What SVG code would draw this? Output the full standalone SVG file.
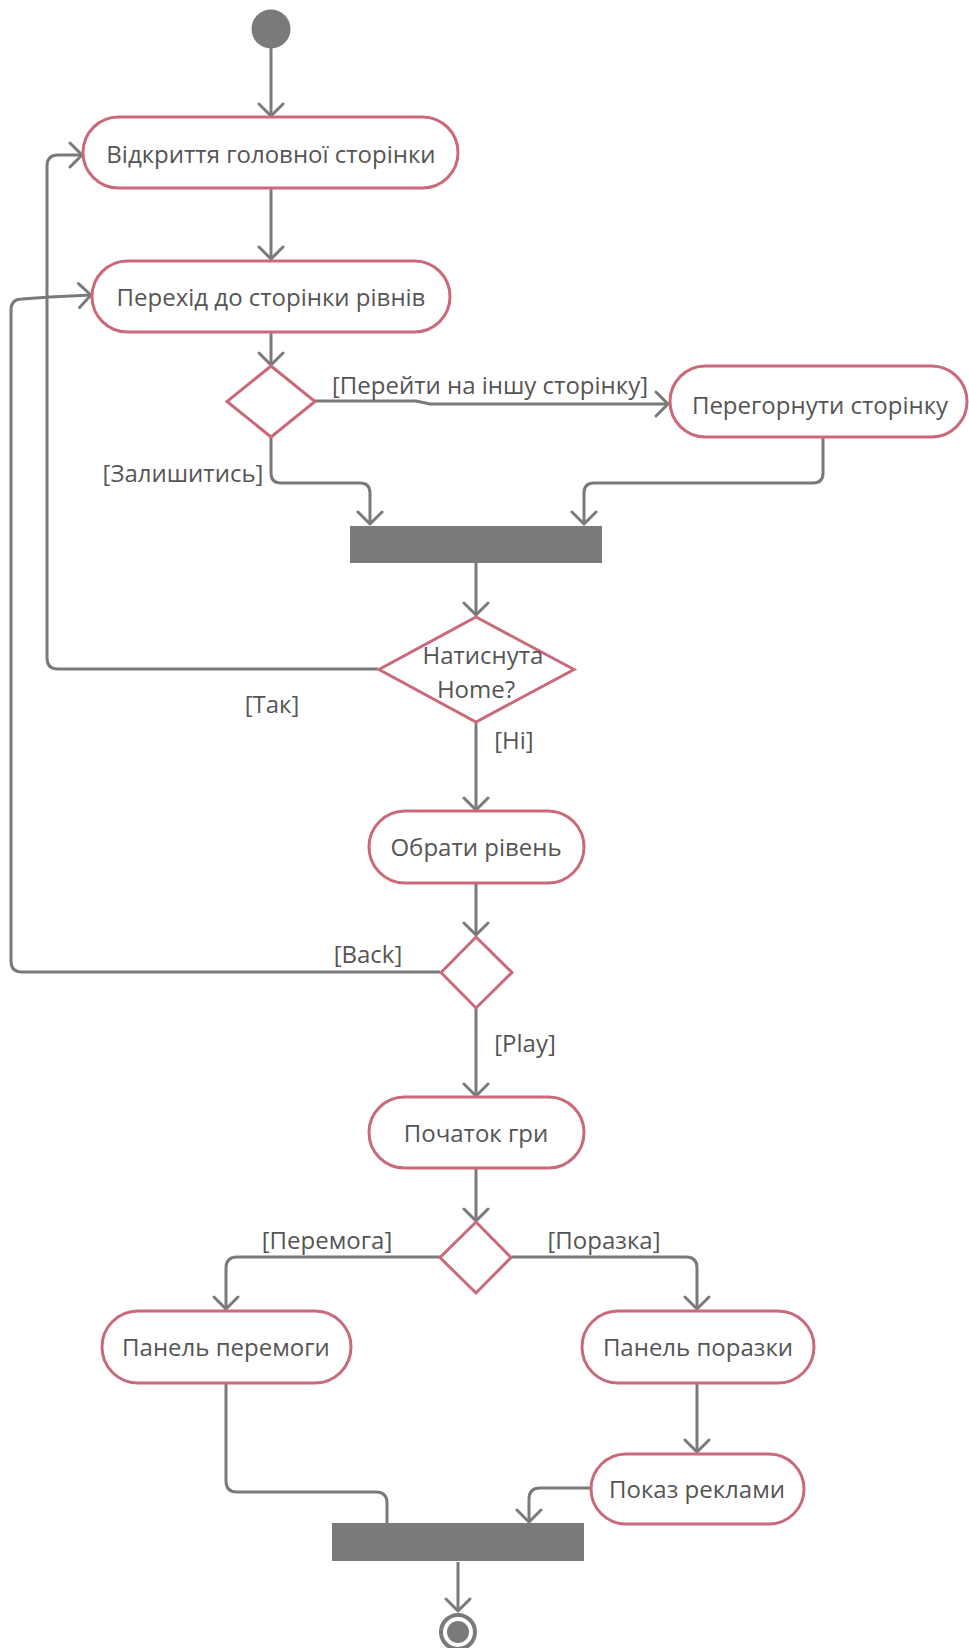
<svg xmlns="http://www.w3.org/2000/svg" width="969" height="1648" viewBox="0 0 969 1648">
<defs>
<style>
.node{fill:#ffffff;stroke:#c9697a;stroke-width:3;}
.dec{fill:#ffffff;stroke:#c9697a;stroke-width:3;stroke-linejoin:miter;}
.bar{fill:#7a7a7a;}
.edge{fill:none;stroke:#7a7a7a;stroke-width:3;stroke-linejoin:round;}
.arr{marker-end:url(#arrow);}
.t{font-family:"Open Sans","Noto Sans","DejaVu Sans",sans-serif;font-size:24px;fill:#555555;text-anchor:middle;}
.lbl{font-family:"Open Sans","Noto Sans","DejaVu Sans",sans-serif;font-size:24px;fill:#555555;text-anchor:middle;}
</style>
<marker id="arrow" markerUnits="userSpaceOnUse" viewBox="-14 -14 16 28" refX="0" refY="0" markerWidth="16" markerHeight="28" orient="auto">
<path d="M-12,-12 L0,0 L-12,12" fill="none" stroke="#7a7a7a" stroke-width="3" stroke-linecap="round" stroke-linejoin="round"/>
</marker>
</defs>
<rect width="969" height="1648" fill="#ffffff"/>

<g id="connectors">
<path class="edge arr" d="M271,48 L271,116"/>
<path class="edge arr" d="M271,188 L271,259"/>
<path class="edge arr" d="M271,332 L271,365"/>
<path class="edge arr" d="M315,401 L416,401 L430,404 L668,404"/>
<path class="edge arr" d="M271,437 L271,473 Q271,483 281,483 L360,483 Q370,483 370,493 L370,524"/>
<path class="edge arr" d="M823,437 L823,473 Q823,483 813,483 L594,483 Q584,483 584,493 L584,524"/>
<path class="edge arr" d="M476,563 L476,615"/>
<path class="edge arr" d="M378,669 L58,669 Q47,669 47,658 L47,166 Q47,155 58,155 L82,155"/>
<path class="edge arr" d="M476,723 L476,810"/>
<path class="edge arr" d="M476,883 L476,935"/>
<path class="edge arr" d="M440,972 L22,972 Q11,972 11,961 L11,310 Q11,299 22,299 L50,297 L91,295"/>
<path class="edge arr" d="M476,1008 L476,1096"/>
<path class="edge arr" d="M476,1168 L476,1221"/>
<path class="edge arr" d="M440,1257 L237,1257 Q226,1257 226,1268 L226,1309"/>
<path class="edge arr" d="M512,1257 L686,1257 Q697,1257 697,1268 L697,1309"/>
<path class="edge arr" d="M697,1383 L697,1452"/>
<path class="edge" d="M226,1383 L226,1481 Q226,1492 237,1492 L376,1492 Q387,1492 387,1503 L387,1523"/>
<path class="edge arr" d="M591,1488 L540,1488 Q529,1488 529,1499 L529,1522"/>
<path class="edge arr" d="M458,1562 L458,1611"/>
<text class="lbl" x="490" y="394">[Перейти на іншу сторінку]</text>
<text class="lbl" x="183" y="482">[Залишитись]</text>
<text class="lbl" x="272" y="713">[Так]</text>
<text class="lbl" x="514" y="749">[Ні]</text>
<text class="lbl" x="368" y="963">[Back]</text>
<text class="lbl" x="525" y="1052">[Play]</text>
<text class="lbl" x="327" y="1249">[Перемога]</text>
<text class="lbl" x="604" y="1249">[Поразка]</text>
</g>

<g id="start"><circle cx="271" cy="29" r="19.5" fill="#7a7a7a"/></g>

<g id="n1"><rect class="node" x="83" y="117" width="375" height="71" rx="35.5"/><text class="t" x="271" y="163">Відкриття головної сторінки</text></g>
<g id="n2"><rect class="node" x="92" y="261" width="358" height="71" rx="35.5"/><text class="t" x="271" y="306">Перехід до сторінки рівнів</text></g>
<g id="d1"><polygon class="dec" points="271,366 315,401.5 271,437 227,401.5"/></g>
<g id="n3"><rect class="node" x="670" y="366" width="297" height="71" rx="35.5"/><text class="t" x="820" y="414">Перегорнути сторінку</text></g>
<g id="bar1"><rect class="bar" x="350" y="526" width="252" height="37"/></g>
<g id="d2"><polygon class="dec" points="476,617 574,669.5 476,722 379,669.5"/><text class="t" x="483" y="664">Натиснута</text><text class="t" x="476" y="698">Home?</text></g>
<g id="n4"><rect class="node" x="369" y="811" width="215" height="72" rx="36"/><text class="t" x="476" y="856">Обрати рівень</text></g>
<g id="d3"><polygon class="dec" points="476,937 512,972.5 476,1008 441,972.5"/></g>
<g id="n5"><rect class="node" x="369" y="1097" width="215" height="71" rx="35.5"/><text class="t" x="476" y="1142">Початок гри</text></g>
<g id="d4"><polygon class="dec" points="476,1222 511,1257.5 476,1293 440,1257.5"/></g>
<g id="n6"><rect class="node" x="102" y="1311" width="249" height="72" rx="36"/><text class="t" x="226" y="1356">Панель перемоги</text></g>
<g id="n7"><rect class="node" x="582" y="1311" width="232" height="72" rx="36"/><text class="t" x="698" y="1356">Панель поразки</text></g>
<g id="n8"><rect class="node" x="591" y="1454" width="213" height="70" rx="35"/><text class="t" x="697" y="1498">Показ реклами</text></g>
<g id="bar2"><rect class="bar" x="332" y="1523" width="252" height="38"/></g>
<g id="end"><circle cx="458" cy="1632" r="17" fill="none" stroke="#7a7a7a" stroke-width="4"/><circle cx="458" cy="1632" r="11" fill="#7a7a7a"/></g>
</svg>
